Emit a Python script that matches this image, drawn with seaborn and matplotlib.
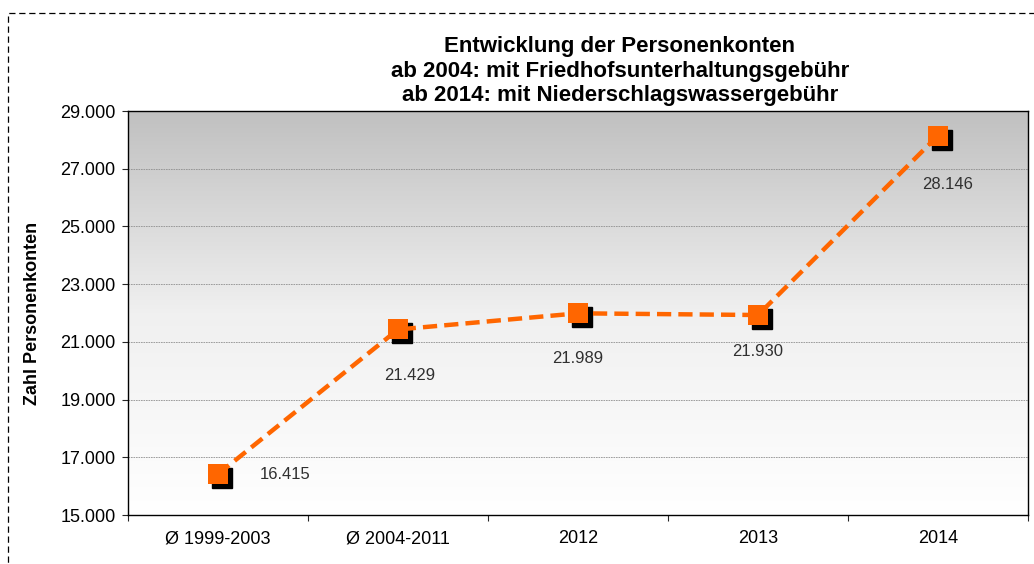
import numpy as np
import pandas as pd
import seaborn as sns
import matplotlib.pyplot as plt
import matplotlib.transforms as mtransforms
from matplotlib.patches import Rectangle

# data
kategorien = ['Ø 1999-2003', 'Ø 2004-2011', '2012', '2013', '2014']
personenkonten = [16415, 21429, 21989, 21930, 28146]
y_ticks = [15000, 17000, 19000, 21000, 23000, 25000, 27000, 29000]

titel = ('Entwicklung der Personenkonten\n'
         'ab 2004: mit Friedhofsunterhaltungsgebühr\n'
         'ab 2014: mit Niederschlagswassergebühr')

# label offsets in pixels (dx, dy) relative to marker
label_offsets = [(67, 0), (12, -46), (0, -45), (0, -36), (10, -49)]

sns.set_theme(style='white')
plt.rcParams['font.family'] = ['Liberation Sans', 'DejaVu Sans']

df = pd.DataFrame({'kategorie': kategorien, 'konten': personenkonten})
df['pos'] = np.arange(len(df))

fig = plt.figure(figsize=(10.34, 5.64), dpi=100)
ax = fig.add_axes([128 / 1034, 1 - 515 / 564, 900 / 1034, 404 / 564])

# grey-to-white gradient background
grad = np.linspace(0, 1, 256).reshape(-1, 1)
ax.imshow(grad, extent=[0, 1, 0, 1], transform=ax.transAxes, aspect='auto',
          cmap=plt.matplotlib.colors.LinearSegmentedColormap.from_list(
              'bg', ['#ffffff', '#f0f0f0', '#c0c0c0']),
          origin='lower', zorder=0)

for yv in y_ticks[1:-1]:
    ax.axhline(yv, color='#909090', lw=0.6, ls=(0, (2, 1)), zorder=1)

# shadow squares
shadow = mtransforms.offset_copy(ax.transData, fig=fig, x=4, y=-4, units='dots')
ax.plot(df['pos'], df['konten'], ls='none', marker='s', ms=15, color='black',
        transform=shadow, zorder=2)

sns.lineplot(data=df, x='pos', y='konten', ax=ax, color='#ff6600', lw=3.2,
             zorder=3)
ax.lines[-1].set_dashes([3.2, 1.6])
ax.plot(df['pos'], df['konten'], ls='none', marker='s', ms=15, color='#ff6600',
        mew=0, zorder=4)

for i, (p, v) in enumerate(zip(df['pos'], df['konten'])):
    dx, dy = label_offsets[i]
    ax.annotate(f'{v:,}'.replace(',', '.'), (p, v), xytext=(dx * 0.72, dy * 0.72),
                textcoords='offset points', ha='center', va='center',
                fontsize=12, color='#303030', zorder=5)

ax.set_xlim(-0.5, len(kategorien) - 0.5)
ax.set_ylim(15000, 29000)
ax.set_yticks(y_ticks)
ax.set_yticklabels([f'{t:,}'.replace(',', '.') for t in y_ticks], fontsize=13,
                   color='black')
ax.set_xticks(df['pos'])
ax.set_xticklabels(kategorien, fontsize=13, color='black')
ax.set_xticks(np.arange(-0.5, len(kategorien)), minor=True)
ax.tick_params(axis='x', which='major', length=0, pad=11)
ax.tick_params(axis='x', which='minor', length=4, width=0.8, direction='out', bottom=True)
ax.tick_params(axis='y', length=4, width=0.8, direction='out', left=True, pad=5)
ax.set_xlabel('')
ax.set_ylabel('Zahl Personenkonten', fontsize=13, fontweight='bold', labelpad=14,
              color='black')

for s in ax.spines.values():
    s.set_visible(True)
    s.set_color('black')
    s.set_linewidth(1)

fig.text(620 / 1034, 1 - 71 / 564, titel, ha='center', va='center',
         fontsize=16, fontweight='bold', linespacing=1.2, color='black')

# dashed frame round the chart
fig.patches.append(Rectangle((8 / 1034, -0.1), 1.2, 1 - 13 / 564 + 0.1,
                             transform=fig.transFigure, fill=False,
                             ls=(0, (5, 3)), lw=0.9, color='black'))

fig.savefig('out.png', dpi=100)
